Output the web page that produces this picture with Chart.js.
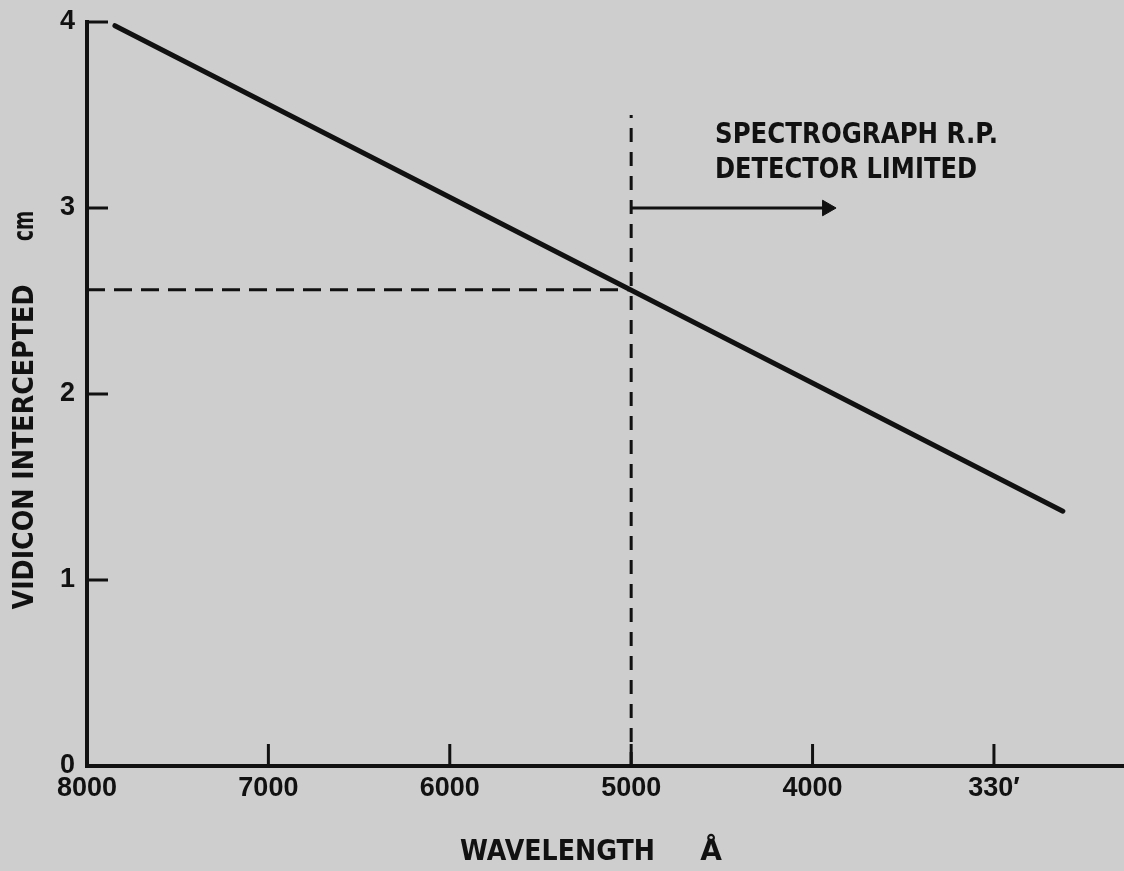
<!DOCTYPE html>
<html>
<head>
<meta charset="utf-8">
<script src="https://cdn.jsdelivr.net/npm/chart.js@4"></script>
<style>
  html, body { margin: 0; padding: 0; background: #cecece; overflow: hidden; }
  #wrap { width: 1124px; height: 871px; position: relative; }
  #c { display: block; }
</style>
</head>
<body>
<div id="wrap"><canvas id="c"></canvas></div>
<script>
// Axis ticks
const xTicks = [8000, 7000, 6000, 5000, 4000, 3000];
const xTickLabels = ['8000', '7000', '6000', '5000', '4000', '330\u2032'];
const yTicks = [0, 1, 2, 3, 4];

// Intercepted vidicon length vs wavelength (straight line)
const curveWavelength = [7846, 2620];
const curveIntercept = [3.98, 1.37];

// Detector-limited boundary at 5000 Å
const limitWavelength = [8000, 5000];
const limitIntercept = [2.56, 2.56];
const boundaryWavelength = [5000, 5000];
const boundaryIntercept = [0, 3.5];

// Arrow pointing into the detector-limited region
const arrowWavelength = [5000, 3920];
const arrowLevel = [3.0, 3.0];

const INK = '#111';
const TITLE_FONT = 'bold 28px "DejaVu Sans", "Liberation Sans", Arial, sans-serif';

const pts = (xs, ys) => xs.map((x, i) => ({ x: x, y: ys[i] }));

const decor = {
  id: 'decor',
  afterDraw(chart) {
    const ctx = chart.ctx;
    const xs = chart.scales.x, ys = chart.scales.y;
    const area = chart.chartArea;
    ctx.save();
    ctx.strokeStyle = INK;
    ctx.lineWidth = 3;
    // inward tick marks
    xTicks.forEach(v => {
      if (v === 8000) return;
      const px = xs.getPixelForValue(v);
      ctx.beginPath();
      ctx.moveTo(px, area.bottom);
      ctx.lineTo(px, area.bottom - 22);
      ctx.stroke();
    });
    yTicks.forEach(v => {
      if (v === 0) return;
      const py = ys.getPixelForValue(v);
      ctx.beginPath();
      ctx.moveTo(area.left, py);
      ctx.lineTo(area.left + 21, py);
      ctx.stroke();
    });

    ctx.fillStyle = INK;
    ctx.font = TITLE_FONT;
    ctx.textBaseline = 'alphabetic';

    // annotation
    ctx.textAlign = 'left';
    ctx.fillText('SPECTROGRAPH R.P.', 715, 143, 283);
    ctx.fillText('DETECTOR LIMITED', 715, 178, 262);

    // x axis title
    ctx.fillText('WAVELENGTH', 460, 860, 195);
    ctx.textAlign = 'center';
    ctx.fillText('\u00C5', 711, 860, 24);

    // y axis title
    ctx.save();
    ctx.translate(33, 447);
    ctx.rotate(-Math.PI / 2);
    ctx.fillText('VIDICON INTERCEPTED', 0, 0, 325);
    ctx.restore();
    ctx.save();
    ctx.translate(33, 226);
    ctx.rotate(-Math.PI / 2);
    ctx.fillText('cm', 0, 0, 30);
    ctx.restore();

    ctx.restore();
  }
};

new Chart(document.getElementById('c'), {
  type: 'scatter',
  data: {
    datasets: [
      {
        data: pts(curveWavelength, curveIntercept),
        showLine: true, borderColor: INK, borderWidth: 5,
        borderCapStyle: 'round', pointRadius: 0, clip: false
      },
      {
        data: pts(limitWavelength, limitIntercept),
        showLine: true, borderColor: INK, borderWidth: 3,
        borderDash: [18, 9], pointRadius: 0, clip: false
      },
      {
        data: pts(boundaryWavelength, boundaryIntercept),
        showLine: true, borderColor: INK, borderWidth: 3,
        borderDash: [14, 10], pointRadius: 0, clip: false
      },
      {
        data: pts(arrowWavelength, arrowLevel),
        showLine: true, borderColor: INK, borderWidth: 3,
        pointRadius: [0, 9], pointStyle: 'triangle', rotation: 90,
        pointBackgroundColor: INK, pointBorderColor: INK, pointBorderWidth: 1,
        clip: false
      }
    ]
  },
  options: {
    responsive: true,
    maintainAspectRatio: false,
    animation: false,
    events: [],
    layout: { autoPadding: false, padding: { top: 22, right: 0, left: 0, bottom: 0 } },
    plugins: { legend: { display: false }, tooltip: { enabled: false }, title: { display: false } },
    scales: {
      x: {
        type: 'linear', reverse: true, min: 2283, max: 8000,
        afterBuildTicks: s => { s.ticks = xTicks.map(v => ({ value: v })); },
        afterFit: s => { s.height = 105; s.paddingLeft = 0; s.paddingRight = 0; },
        grid: { display: true, drawOnChartArea: false, drawTicks: false },
        border: { display: true, color: INK, width: 4 },
        ticks: {
          autoSkip: false, maxRotation: 0, padding: 6, color: INK,
          font: { family: '"Liberation Sans", Arial, sans-serif', weight: 'bold', size: 27 },
          callback: v => xTickLabels[xTicks.indexOf(v)]
        }
      },
      y: {
        type: 'linear', min: 0, max: 4,
        afterBuildTicks: s => { s.ticks = yTicks.map(v => ({ value: v })); },
        afterFit: s => { s.width = 87; s.paddingTop = 0; s.paddingBottom = 0; },
        grid: { display: true, drawOnChartArea: false, drawTicks: false },
        border: { display: true, color: INK, width: 4 },
        ticks: {
          padding: 12, color: INK,
          font: { family: '"Liberation Sans", Arial, sans-serif', weight: 'bold', size: 27 },
          callback: v => String(v)
        }
      }
    }
  },
  plugins: [decor]
});
</script>
</body>
</html>
